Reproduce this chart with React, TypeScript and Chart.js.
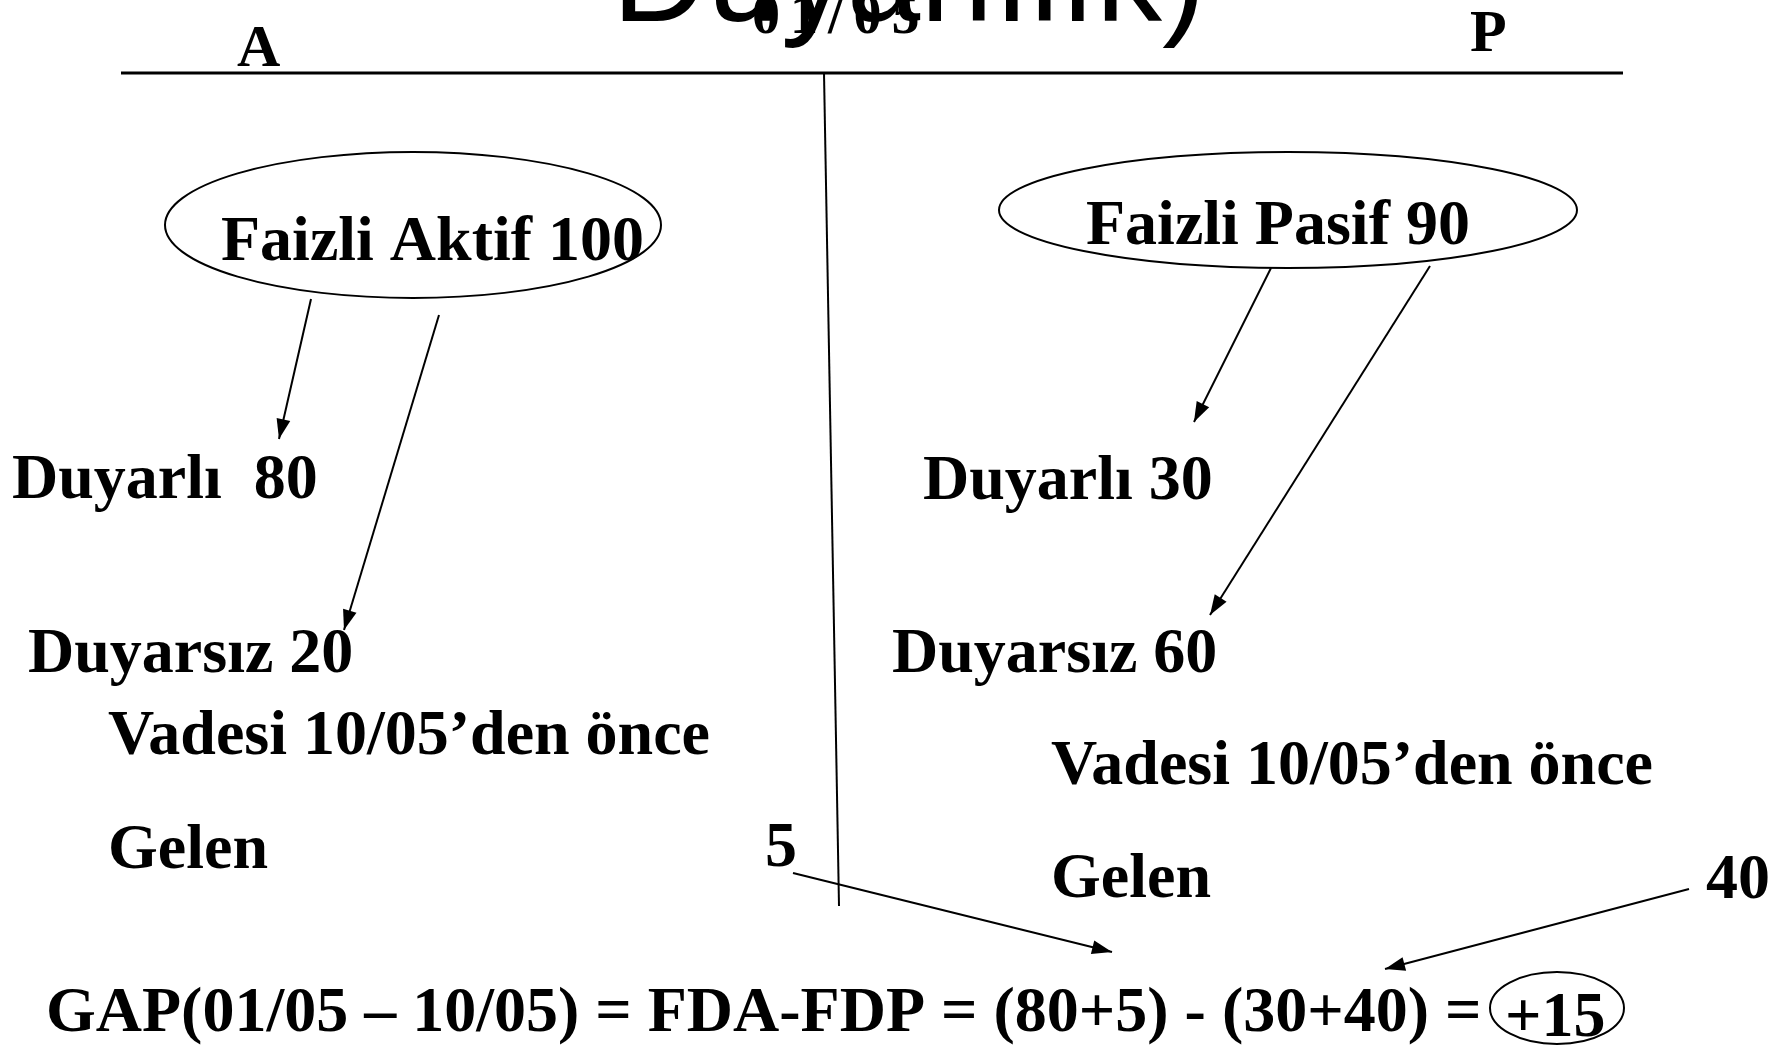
import React, { useEffect, useRef } from "react";
import { Chart, registerables } from "chart.js";

Chart.register(...registerables);

const W = 1787;
const H = 1052;

// ---- values shown in the diagram ----
const assetTotal = 100;
const assetSensitive = 80;
const assetInsensitive = 20;
const assetEarly = 5;
const liabTotal = 90;
const liabSensitive = 30;
const liabInsensitive = 60;
const liabEarly = 40;
const gapValue = assetSensitive + assetEarly - (liabSensitive + liabEarly);

const periodStart = "01/05";
const periodEnd = "10/05";
const sideLabels = ["A", "P"];
const titleText = "Duyarlılık)";

// ---- text labels (content) ----
const labelTexts = [
  `Faizli Aktif ${assetTotal}`,
  `Faizli Pasif ${liabTotal}`,
  `Duyarlı  ${assetSensitive}`,
  `Duyarsız ${assetInsensitive}`,
  `Vadesi ${periodEnd}’den önce`,
  "Gelen",
  `${assetEarly}`,
  `Duyarlı ${liabSensitive}`,
  `Duyarsız ${liabInsensitive}`,
  `Vadesi ${periodEnd}’den önce`,
  "Gelen",
  `${liabEarly}`,
  `GAP(${periodStart} – ${periodEnd}) = FDA-FDP = (${assetSensitive}+${assetEarly}) - (${liabSensitive}+${liabEarly}) =`,
  `+${gapValue}`,
];

// ---- layout (positions in diagram units: left x, baseline y, size, max width) ----
const labelLayout: [number, number, number, number | null][] = [
  [221, 260, 64, null],
  [1086, 244, 64, null],
  [12, 498, 64, null],
  [28, 672, 64, null],
  [108, 754, 64, 602],
  [108, 868, 64, null],
  [765, 866, 64, null],
  [923, 499, 64, null],
  [892, 672, 64, null],
  [1051, 784, 64, 602],
  [1051, 897, 64, null],
  [1706, 898, 64, null],
  [46, 1031, 64, 1447],
  [1505, 1036, 64, null],
];
const sideLayout: [number, number][] = [
  [237, 66],
  [1470, 51],
];

// line segments: x1, y1, x2, y2, width, arrow
const segments: [number, number, number, number, number, boolean][] = [
  [121, 73, 1623, 73, 3, false],
  [824, 73, 839, 906, 2, false],
  [311, 299, 279, 439, 2, true],
  [439, 315, 344, 630, 2, true],
  [1271, 268, 1194, 422, 2, true],
  [1430, 266, 1210, 615, 2, true],
  [793, 873, 1112, 952, 2, true],
  [1689, 889, 1385, 969, 2, true],
];

// ellipses: cx, cy, rx, ry
const ellipses: [number, number, number, number][] = [
  [413, 225, 248, 73],
  [1288, 210, 289, 58],
  [1557, 1008, 67, 36],
];

const SERIF = '"Liberation Serif", "Times New Roman", "DejaVu Serif", serif';
const SANS = '"Liberation Sans", Arial, sans-serif';

const diagramPlugin = {
  id: "diagram",
  afterDatasetsDraw(chart: any) {
    const ctx: CanvasRenderingContext2D = chart.ctx;
    const xs = chart.scales.x;
    const ys = chart.scales.y;
    const px = (v: number) => xs.getPixelForValue(v);
    const py = (v: number) => ys.getPixelForValue(v);
    ctx.save();
    ctx.fillStyle = "#000";
    ctx.strokeStyle = "#000";

    // arrowheads
    chart.data.datasets.forEach((ds: any) => {
      if (!ds.arrow) return;
      const d = ds.data;
      const a = d[d.length - 2];
      const b = d[d.length - 1];
      const x1 = px(a.x), y1 = py(a.y), x2 = px(b.x), y2 = py(b.y);
      const ang = Math.atan2(y2 - y1, x2 - x1);
      const L = 20, Wd = 7;
      const c = Math.cos(ang), s = Math.sin(ang);
      ctx.beginPath();
      ctx.moveTo(x2, y2);
      ctx.lineTo(x2 - L * c + Wd * s, y2 - L * s - Wd * c);
      ctx.lineTo(x2 - L * c - Wd * s, y2 - L * s + Wd * c);
      ctx.closePath();
      ctx.fill();
    });

    // ellipses
    ctx.lineWidth = 2;
    ellipses.forEach(([cx, cy, rx, ry]) => {
      const x0 = px(cx), y0 = py(cy);
      const rpx = Math.abs(px(cx + rx) - x0);
      const rpy = Math.abs(py(cy + ry) - y0);
      ctx.beginPath();
      ctx.ellipse(x0, y0, rpx, rpy, 0, 0, Math.PI * 2);
      ctx.stroke();
    });

    // cut-off title (partially above the page)
    ctx.textBaseline = "alphabetic";
    ctx.textAlign = "left";
    ctx.font = `132px ${SANS}`;
    ctx.fillText(titleText, px(612), py(21));

    // overlapping date
    ctx.font = `bold 56px ${SERIF}`;
    (ctx as any).letterSpacing = "10px";
    ctx.fillText(periodStart, px(752), py(33));
    (ctx as any).letterSpacing = "0px";

    // A / P side headers
    ctx.font = `bold 60px ${SERIF}`;
    sideLabels.forEach((t, i) => {
      const [x, y] = sideLayout[i];
      ctx.fillText(t, px(x), py(y));
    });

    // labels
    labelTexts.forEach((t, i) => {
      const [x, y, size, mw] = labelLayout[i];
      ctx.font = `bold ${size}px ${SERIF}`;
      if (mw) ctx.fillText(t, px(x), py(y), mw);
      else ctx.fillText(t, px(x), py(y));
    });
    ctx.restore();
  },
};

export default function App() {
  const ref = useRef<HTMLCanvasElement | null>(null);
  useEffect(() => {
    if (!ref.current) return;
    const datasets = segments.map(([x1, y1, x2, y2, w, arrow]) => ({
      data: [
        { x: x1, y: y1 },
        { x: x2, y: y2 },
      ],
      showLine: true,
      borderColor: "#000",
      backgroundColor: "#000",
      borderWidth: w,
      pointRadius: 0,
      pointHoverRadius: 0,
      arrow,
    }));
    const chart = new Chart(ref.current, {
      type: "scatter",
      data: { datasets: datasets as any },
      options: {
        animation: false,
        responsive: false,
        devicePixelRatio: 1,
        layout: { padding: 0 },
        events: [],
        plugins: { legend: { display: false }, tooltip: { enabled: false } },
        scales: {
          x: { type: "linear", min: 0, max: W, display: false },
          y: { type: "linear", min: 0, max: H, reverse: true, display: false },
        },
      },
      plugins: [diagramPlugin],
    });
    return () => chart.destroy();
  }, []);
  return (
    <div style={{ position: "fixed", left: 0, top: 0, width: W, height: H, background: "#fff" }}>
      <canvas ref={ref} width={W} height={H} style={{ display: "block", width: W, height: H }} />
    </div>
  );
}
